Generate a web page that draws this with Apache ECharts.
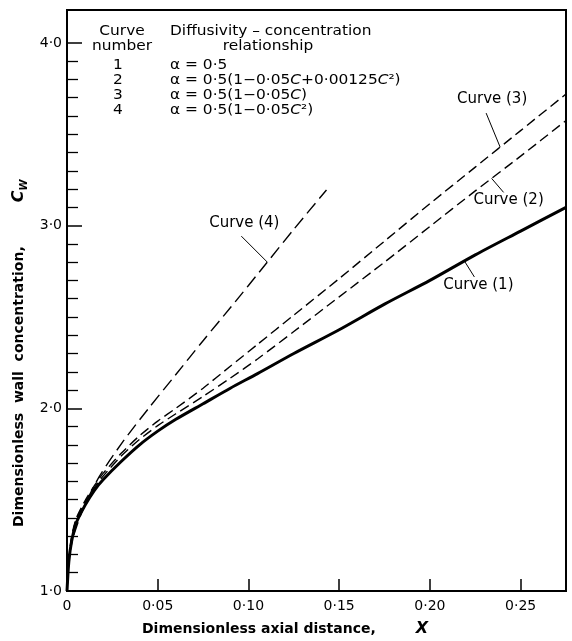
<!DOCTYPE html>
<html>
<head>
<meta charset="utf-8">
<script src="https://cdn.jsdelivr.net/npm/echarts@6/dist/echarts.min.js"></script>
<style>
  html, body { margin: 0; padding: 0; background: #fff; }
  #main { width: 572px; height: 641px; }
</style>
</head>
<body>
<div id="main"></div>
<script>
// dimensionless axial distance X, shared by curves 1-3
var xs = [0, 0.001, 0.0025, 0.005, 0.01, 0.015, 0.02, 0.03, 0.04, 0.05, 0.06, 0.075, 0.09, 0.105, 0.125, 0.15, 0.175, 0.2, 0.225, 0.25, 0.275];
// dimensionless wall concentration Cw
var curve1 = [1.0, 1.16, 1.27, 1.37, 1.47, 1.55, 1.61, 1.71, 1.80, 1.875, 1.94, 2.025, 2.11, 2.19, 2.30, 2.43, 2.57, 2.70, 2.84, 2.97, 3.10];
var curve2 = [1.0, 1.16, 1.285, 1.385, 1.485, 1.565, 1.63, 1.74, 1.83, 1.905, 1.97, 2.065, 2.165, 2.27, 2.42, 2.61, 2.80, 2.995, 3.19, 3.38, 3.575];
var curve3 = [1.0, 1.17, 1.295, 1.395, 1.495, 1.575, 1.645, 1.755, 1.85, 1.93, 2.00, 2.11, 2.23, 2.35, 2.51, 2.71, 2.915, 3.12, 3.32, 3.52, 3.72];
// curve 4 stops early
var xs4 = [0, 0.001, 0.0033, 0.0089, 0.018, 0.031, 0.045, 0.06, 0.075, 0.09, 0.11, 0.125, 0.143];
var curve4 = [1.0, 1.17, 1.29, 1.45, 1.63, 1.82, 2.00, 2.185, 2.37, 2.55, 2.795, 2.98, 3.195];

var xTicks = [0, 0.05, 0.1, 0.15, 0.2, 0.25];
var yTicks = [1, 2, 3, 4];

var legendNumbers = ['1', '2', '3', '4'];
var legendRelations = [
  'α = 0·5',
  'α = 0·5(1−0·05{i|C}+0·00125{i|C}²)',
  'α = 0·5(1−0·05{i|C})',
  'α = 0·5(1−0·05{i|C}²)'
];

var font = '"DejaVu Sans", sans-serif';

// minor ticks every 0.1 between the labelled ones
var yMinor = [];
for (var k = 10; k < 40; k++) {
  if (k % 10 !== 0) yMinor.push(k / 10);
}

function pairs(a, b) {
  return a.map(function (x, i) { return [x, b[i]]; });
}

function yAt(ax, ay, x) {
  for (var i = 1; i < ax.length; i++) {
    if (x <= ax[i]) {
      var t = (x - ax[i - 1]) / (ax[i] - ax[i - 1]);
      return ay[i - 1] + t * (ay[i] - ay[i - 1]);
    }
  }
  return ay[ay.length - 1];
}

var chart = echarts.init(document.getElementById('main'));

var option = {
  animation: false,
  backgroundColor: '#fff',
  grid: {
    left: 67, right: 6, top: 10, bottom: 50,
    show: true, borderColor: '#000', borderWidth: 2
  },
  xAxis: {
    type: 'value', min: 0, max: 0.275,
    splitLine: { show: false },
    axisLine: { onZero: false, lineStyle: { color: '#000', width: 2 } },
    axisTick: { inside: true, length: 12, customValues: xTicks, lineStyle: { color: '#000', width: 1.5 } },
    axisLabel: {
      customValues: xTicks, color: '#000', fontFamily: font, fontSize: 14, margin: 8,
      formatter: function (v) { return v === 0 ? '0' : v.toFixed(2).replace('.', '·'); }
    }
  },
  yAxis: [{
    type: 'value', min: 1, max: 4.18,
    splitLine: { show: false },
    axisLine: { onZero: false, lineStyle: { color: '#000', width: 2 } },
    axisTick: { inside: true, length: 15, customValues: yTicks, lineStyle: { color: '#000', width: 1.5 } },
    axisLabel: {
      customValues: yTicks, color: '#000', fontFamily: font, fontSize: 14, margin: 5,
      formatter: function (v) { return v.toFixed(1).replace('.', '·'); }
    }
  }, {
    type: 'value', min: 1, max: 4.18, position: 'left',
    splitLine: { show: false },
    axisLine: { show: false },
    axisLabel: { show: false },
    axisTick: { inside: true, length: 11, customValues: yMinor, lineStyle: { color: '#000', width: 1.3 } }
  }],
  series: [{
    name: 'Curve (1)', type: 'line', data: pairs(xs, curve1),
    showSymbol: false, smooth: 0.25,
    lineStyle: { color: '#000', width: 3 }
  }, {
    name: 'Curve (2)', type: 'line', data: pairs(xs, curve2),
    showSymbol: false, smooth: 0.25,
    lineStyle: { color: '#000', width: 1.4, type: [10, 5] }
  }, {
    name: 'Curve (3)', type: 'line', data: pairs(xs, curve3),
    showSymbol: false, smooth: 0.25,
    lineStyle: { color: '#000', width: 1.4, type: [10, 5] }
  }, {
    name: 'Curve (4)', type: 'line', data: pairs(xs4, curve4),
    showSymbol: false, smooth: 0.25,
    lineStyle: { color: '#000', width: 1.4, type: [13, 6] }
  }]
};
chart.setOption(option);

// curve labels with short leader lines (offsets in px from the point on the curve)
var notes = [
  { text: 'Curve (1)', ax: xs, ay: curve1, x: 0.219, lead: [10, 16], label: [14, 24] },
  { text: 'Curve (2)', ax: xs, ay: curve2, x: 0.234, lead: [12, 14], label: [17, 22] },
  { text: 'Curve (3)', ax: xs, ay: curve3, x: 0.2387, lead: [-14, -34], label: [-8, -48] },
  { text: 'Curve (4)', ax: xs4, ay: curve4, x: 0.1104, lead: [-26, -26], label: [-23, -39] }
];

var graphics = [];
notes.forEach(function (n) {
  var p = chart.convertToPixel({ gridIndex: 0 }, [n.x, yAt(n.ax, n.ay, n.x)]);
  graphics.push({
    type: 'line', silent: true,
    shape: { x1: p[0], y1: p[1], x2: p[0] + n.lead[0], y2: p[1] + n.lead[1] },
    style: { stroke: '#000', lineWidth: 1 }
  });
  graphics.push({
    type: 'text', silent: true, x: p[0] + n.label[0], y: p[1] + n.label[1],
    style: { text: n.text, font: '15px ' + font, fill: '#000', textAlign: 'center', textVerticalAlign: 'middle' }
  });
});

// table of diffusivity relationships (old lettering is wide, so stretch a little)
var rich = { i: { fontStyle: 'italic', fontFamily: font, fontSize: 14 } };
function txt(s, x, y, align) {
  return {
    type: 'text', silent: true, x: x, y: y, scaleX: 1.1,
    style: { text: s, font: '14px ' + font, fill: '#000', textAlign: align, textVerticalAlign: 'middle', rich: rich }
  };
}
graphics.push(txt('Curve', 122, 31, 'center'));
graphics.push(txt('number', 122, 46, 'center'));
graphics.push(txt('Diffusivity – concentration', 170, 31, 'left'));
graphics.push(txt('relationship', 268, 46, 'center'));
legendNumbers.forEach(function (s, i) {
  graphics.push(txt(s, 118, 65 + i * 15, 'center'));
  graphics.push(txt(legendRelations[i], 170, 65 + i * 15, 'left'));
});

// axis titles
graphics.push({
  type: 'text', silent: true, x: 142, y: 629,
  style: {
    text: '{t|Dimensionless axial distance,}{g| }{c|X}',
    textAlign: 'left', textVerticalAlign: 'middle', fill: '#000',
    rich: {
      t: { fontFamily: font, fontSize: 14, fontWeight: 'bold' },
      g: { width: 40 },
      c: { fontFamily: font, fontSize: 16, fontStyle: 'italic', fontWeight: 'bold' }
    }
  }
});
graphics.push({
  type: 'text', silent: true, x: 19, y: 527, rotation: Math.PI / 2,
  style: {
    text: '{t|Dimensionless  wall  concentration,}{g| }{c|C}{w|W}',
    textAlign: 'left', textVerticalAlign: 'middle', fill: '#000',
    rich: {
      t: { fontFamily: font, fontSize: 14, fontWeight: 'bold', lineHeight: 20 },
      g: { width: 44 },
      c: { fontFamily: font, fontSize: 16, fontStyle: 'italic', fontWeight: 'bold', lineHeight: 20 },
      w: { fontFamily: font, fontSize: 10, fontStyle: 'italic', fontWeight: 'bold', verticalAlign: 'bottom', lineHeight: 20 }
    }
  }
});

chart.setOption({ graphic: graphics });
</script>
</body>
</html>
